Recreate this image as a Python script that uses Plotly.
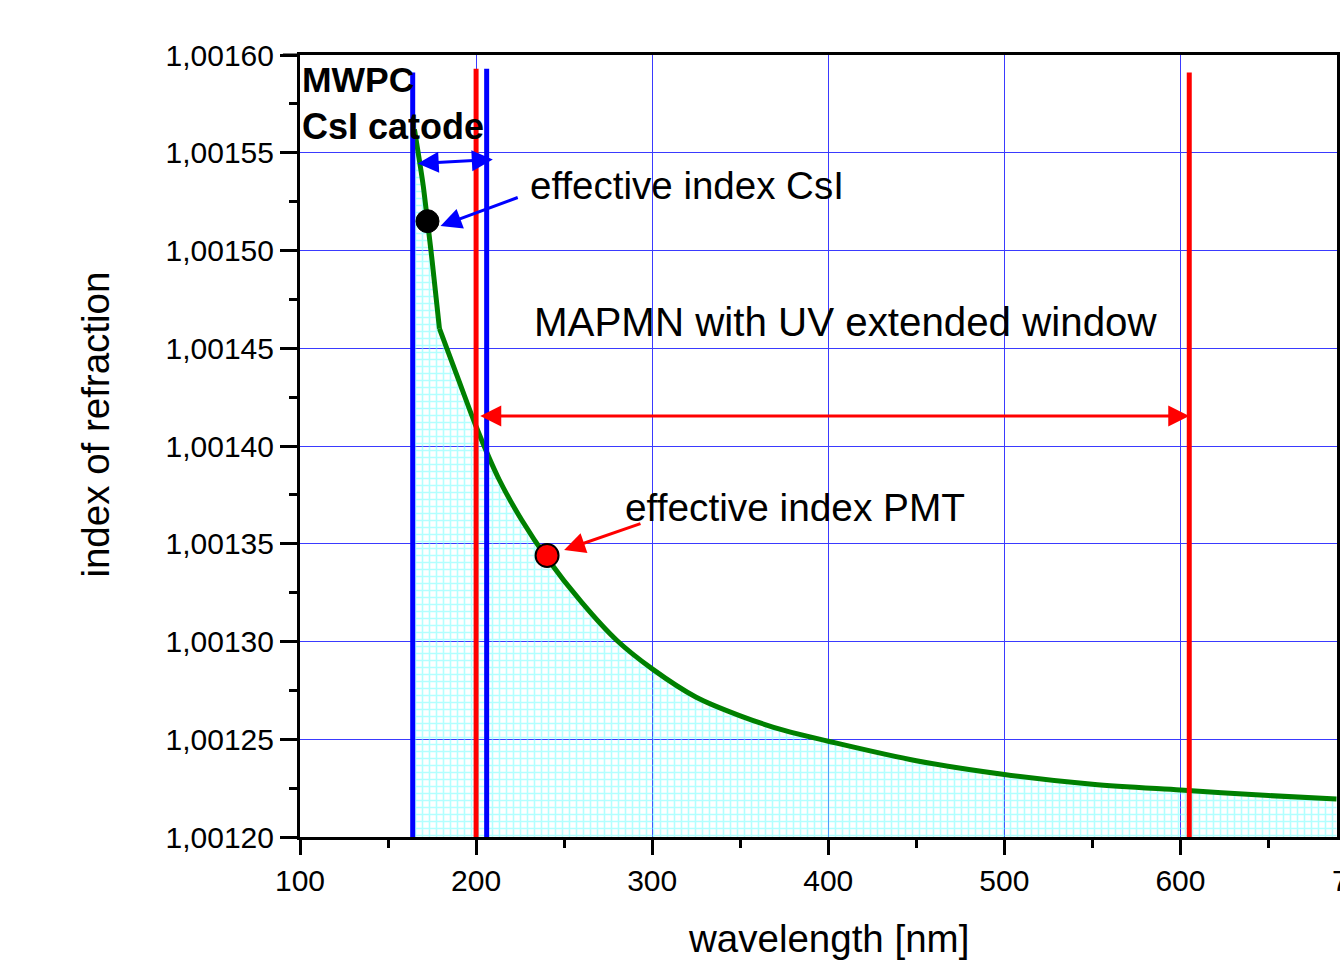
import plotly.graph_objects as go

# Refractive index curve (wavelength in nm) - upper branch up to the kink, then lower branch
wl_upper = [165, 168, 170, 172.4, 175, 179.2]
n_upper = [1.001562, 1.001545, 1.001533, 1.001515, 1.001495, 1.001460]
wl_lower = [179.2, 190, 200, 213, 226, 240, 260, 280, 300, 325, 350, 375, 400, 450, 500, 550, 600, 650, 688.6]
n_lower = [1.001460, 1.001434, 1.001410, 1.001383, 1.001362, 1.001343, 1.001320, 1.0013005, 1.001286,
           1.0012715, 1.001262, 1.0012545, 1.001249, 1.001239, 1.001232, 1.001227, 1.001224, 1.0012212,
           1.0012195]

# Detector windows
mwpc_window = [164, 206]      # MWPC CsI catode
pmt_window = [200, 605]       # MAPMT with UV extended window
window_tops = [1.001591, 1.001593, 1.001593, 1.001591]

# Effective index points
eff_csi = (172.4, 1.001515)
eff_pmt = (240.3, 1.001344)

y_min, y_max = 1.00120, 1.00160
x_min, x_max = 100, 688.9

FONT = "Liberation Sans, Arial, sans-serif"
BLUE = "#0000ff"
RED = "#ff0000"

fig = go.Figure()

wl_all = wl_upper + wl_lower[1:]
n_all = n_upper + n_lower[1:]

# hatched fill under curve
fig.add_trace(go.Scatter(
    x=wl_all + [wl_all[-1], wl_all[0]],
    y=n_all + [y_min, y_min],
    fill="toself", mode="none",
    fillcolor="rgba(0,0,0,0)",
    fillpattern=dict(shape="+", fgcolor="#66ffff", bgcolor="rgba(0,0,0,0)", size=7, solidity=0.4),
    hoverinfo="skip", showlegend=False))

# curve (two smooth branches meeting at the kink)
for xs, ys in [(wl_upper, n_upper), (wl_lower, n_lower)]:
    fig.add_trace(go.Scatter(x=xs, y=ys, mode="lines",
                             line=dict(color="#008000", width=5, shape="spline", smoothing=0.9),
                             showlegend=False))

# vertical window lines
for wl, col, top in [(pmt_window[0], RED, window_tops[1]), (mwpc_window[0], BLUE, window_tops[0]),
                     (mwpc_window[1], BLUE, window_tops[2]), (pmt_window[1], RED, window_tops[3])]:
    fig.add_trace(go.Scatter(x=[wl, wl], y=[y_min - 0.0000015, top], mode="lines",
                             line=dict(color=col, width=5), showlegend=False))

# effective index points
fig.add_trace(go.Scatter(x=[eff_csi[0]], y=[eff_csi[1]], mode="markers",
                         marker=dict(color="black", size=23, line=dict(color="black", width=1)),
                         showlegend=False))
fig.add_trace(go.Scatter(x=[eff_pmt[0]], y=[eff_pmt[1]], mode="markers",
                         marker=dict(color=RED, size=23, line=dict(color="black", width=2)),
                         showlegend=False))

annotations = []

def txt(x, y, s, size, bold=False):
    annotations.append(dict(x=x, y=y, xref="x", yref="y", text=f"<b>{s}</b>" if bold else s,
                            showarrow=False, xanchor="left", yanchor="middle",
                            font=dict(family=FONT, size=size, color="black")))

txt(100.2, 1.0015872, "MWPC", 35.5, bold=True)
txt(100.2, 1.0015632, "CsI catode", 36, bold=True)
txt(229.6, 1.0015335, "effective index CsI", 38.5)
txt(231.9, 1.0014634, "MAPMN with UV extended window", 40.3)
txt(283.4, 1.0013688, "effective index PMT", 38.8)

def arrow(x, y, ax, ay, color, both=False):
    d = dict(x=x, y=y, ax=ax, ay=ay, xref="x", yref="y", axref="x", ayref="y", text="",
             showarrow=True, arrowhead=2, arrowsize=1.4, arrowwidth=3, arrowcolor=color)
    if both:
        d.update(arrowside="end+start", startarrowhead=2, startarrowsize=1.4)
    annotations.append(d)

arrow(209.5, 1.0015465, 166.0, 1.0015445, BLUE, both=True)
arrow(605.0, 1.0014153, 201.5, 1.0014153, RED, both=True)
arrow(179.8, 1.0015125, 224.5, 1.0015274, BLUE)
arrow(250.0, 1.0013468, 294.2, 1.0013606, RED)

# partially visible 700 label at the right edge (cut off in the reference too)
annotations.append(dict(x=(700 - x_min) / (x_max - x_min), y=-0.056, xref="paper", yref="paper",
                        text="700", showarrow=False, yanchor="middle", xanchor="center",
                        font=dict(family=FONT, size=30, color="black")))

# axis titles
annotations.append(dict(x=0.5096, y=-0.1292, xref="paper", yref="paper", text="wavelength [nm]",
                        showarrow=False, xanchor="center", yanchor="middle",
                        font=dict(family=FONT, size=38.5, color="black")))
annotations.append(dict(x=-0.197, y=0.527, xref="paper", yref="paper", text="index of refraction",
                        showarrow=False, xanchor="center", yanchor="middle", textangle=-90,
                        font=dict(family=FONT, size=38.5, color="black")))

fig.update_layout(
    width=1340, height=960,
    margin=dict(l=300, r=0, t=55, b=123),
    paper_bgcolor="white", plot_bgcolor="white",
    separators=", ",
    font=dict(family=FONT, size=30, color="black"),
    annotations=annotations,
    shapes=[dict(type="line", xref="paper", yref="paper", x0=-0.0165, x1=0, y0=1, y1=1,
                 line=dict(color="black", width=3))],
    xaxis=dict(range=[x_min, x_max], tickvals=[100, 200, 300, 400, 500, 600],
               ticks="outside", ticklen=15, tickwidth=2.5, tickcolor="black",
               showline=True, linecolor="black", linewidth=3, mirror=True,
               showgrid=True, gridcolor="#3a3aff", gridwidth=1.3, zeroline=False,
               minor=dict(ticks="outside", ticklen=8, tickwidth=2.5, tickcolor="black", dtick=50, showgrid=False),
               tickfont=dict(size=30)),
    yaxis=dict(range=[y_min, y_max], dtick=0.00005, tick0=1.0012, tickformat=".5f",
               ticks="outside", ticklen=17, tickwidth=2.5, tickcolor="black",
               showline=True, linecolor="black", linewidth=3, mirror=True,
               showgrid=True, gridcolor="#3a3aff", gridwidth=1.3, zeroline=False,
               minor=dict(ticks="outside", ticklen=8, tickwidth=2.5, tickcolor="black", dtick=0.000025, showgrid=False),
               tickfont=dict(size=30)),
)

fig.write_html("out.html")
